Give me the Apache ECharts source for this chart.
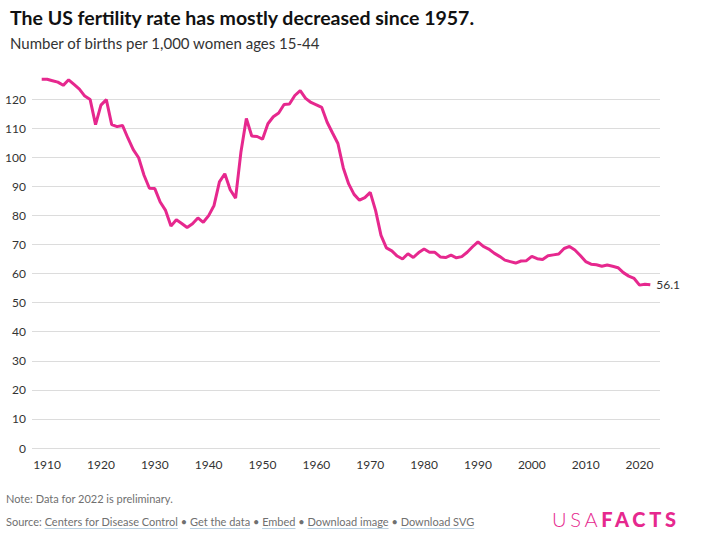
<!DOCTYPE html>
<html>
<head>
<meta charset="utf-8">
<script src="https://cdn.jsdelivr.net/npm/echarts@6/dist/echarts.min.js"></script>
<style>
  html, body { margin: 0; padding: 0; background: #fff; }
  #wrap { position: relative; width: 702px; height: 543px; }
  #chart { position: absolute; left: 0; top: 0; width: 702px; height: 543px; }
  .foot { position: absolute; left: 6px; font-family: Lato, sans-serif; font-size: 11px; color: #707070; white-space: nowrap; }
  .foot a { color: #707070; text-decoration: underline; text-decoration-color: #b8cfe0; text-underline-offset: 2px; }
  #logo { position: absolute; left: 552px; top: 507px; font-family: Lato, sans-serif; font-size: 20px; color: #e6288e; letter-spacing: 3.7px; white-space: nowrap; }
  #logo .a { font-weight: 300; }
  #logo .b { font-weight: 900; }
</style>
</head>
<body>
<div id="wrap">
  <div id="chart"></div>
  <div class="foot" style="top:492px;">Note: Data for 2022 is preliminary.</div>
  <div class="foot" style="top:515px;">Source: <a>Centers for Disease Control</a> • <a>Get the data</a> • <a>Embed</a> • <a>Download image</a> • <a>Download SVG</a></div>
  <div id="logo"><span class="a">USA</span><span class="b">FACTS</span></div>
</div>
<script>
const years = [];
for (let y = 1909; y <= 2022; y++) years.push(y);
const fertilityRate = [
  126.8, 126.8, 126.3, 125.8, 124.7, 126.6, 125.0, 123.4, 121.0, 119.8,
  111.2, 117.9, 119.8, 111.2, 110.5, 110.9, 106.6, 102.6, 99.8, 93.8,
  89.3, 89.2, 84.6, 81.7, 76.3, 78.5, 77.2, 75.8, 77.1, 79.1,
  77.6, 79.9, 83.4, 91.5, 94.3, 88.8, 85.9, 101.9, 113.3, 107.3,
  107.1, 106.2, 111.5, 113.9, 115.2, 118.1, 118.3, 121.2, 122.9, 120.2,
  118.8, 118.0, 117.1, 112.0, 108.3, 104.7, 96.3, 90.8, 87.2, 85.2,
  86.1, 87.9, 81.6, 73.1, 68.8, 67.8, 66.0, 65.0, 66.8, 65.5,
  67.2, 68.4, 67.3, 67.3, 65.7, 65.5, 66.3, 65.4, 65.8, 67.3,
  69.2, 70.9, 69.3, 68.4, 67.0, 65.9, 64.6, 64.1, 63.6, 64.3,
  64.4, 65.9, 65.1, 64.8, 66.1, 66.4, 66.7, 68.6, 69.3, 68.1,
  66.2, 64.1, 63.2, 63.0, 62.5, 62.9, 62.5, 62.0, 60.3, 59.1,
  58.3, 56.0, 56.3, 56.1
];
const xTickLabels = [1910, 1920, 1930, 1940, 1950, 1960, 1970, 1980, 1990, 2000, 2010, 2020];
const yTickLabels = [0, 10, 20, 30, 40, 50, 60, 70, 80, 90, 100, 110, 120];

const pink = '#e6288e';
const chart = echarts.init(document.getElementById('chart'), null, { renderer: 'svg' });
chart.setOption({
  animation: false,
  title: [
    { text: 'The US fertility rate has mostly decreased since 1957.', left: 5, top: 2,
      textStyle: { fontFamily: 'Lato', fontWeight: 'bold', fontSize: 19.5, color: '#111' } },
    { text: 'Number of births per 1,000 women ages 15-44', left: 5, top: 30,
      textStyle: { fontFamily: 'Lato', fontWeight: 'normal', fontSize: 15, color: '#333' } }
  ],
  grid: { left: 32, right: 42, top: 99, bottom: 95 },
  xAxis: {
    type: 'value', min: 1907.2, max: 2023.8,
    axisLine: { show: false }, axisTick: { show: false }, splitLine: { show: false },
    axisLabel: { customValues: xTickLabels, color: '#333', fontFamily: 'Lato', fontSize: 12, margin: 10,
      formatter: v => String(v) }
  },
  yAxis: {
    type: 'value', min: 0, max: 120, interval: 10,
    axisLine: { show: false }, axisTick: { show: false },
    splitLine: { lineStyle: { color: '#dcdcdc', width: 1 } },
    axisLabel: { color: '#333', fontFamily: 'Lato', fontSize: 12, margin: 6,
      formatter: v => yTickLabels.includes(v) ? String(v) : '' }
  },
  series: [{
    type: 'line',
    data: years.map((y, i) => [y, fertilityRate[i]]),
    showSymbol: false, clip: false,
    lineStyle: { color: pink, width: 3 },
    endLabel: { show: true, formatter: p => p.value[1].toFixed(1), color: '#333',
      fontFamily: 'Lato', fontSize: 12, distance: 6 }
  }]
});
</script>
</body>
</html>
